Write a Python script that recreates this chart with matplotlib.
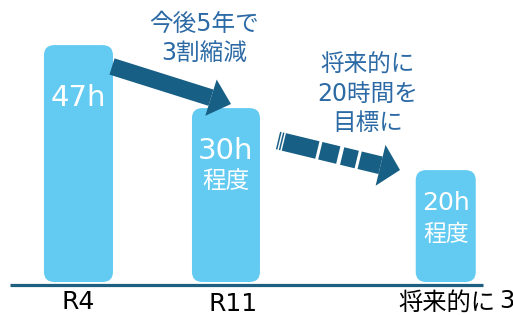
import numpy as np
import matplotlib.pyplot as plt
import matplotlib.transforms as mtransforms
from matplotlib.patches import FancyBboxPatch, Polygon

plt.rcParams['font.family'] = ['DejaVu Sans', 'Noto Sans CJK JP']

# data
categories = ['R4', 'R11', '将来的に']
hours = [47, 30, 20]
# bar heights as drawn in the picture (schematic, not to scale)
bar_heights = [47, 34.5, 22.2]
value_labels = ['47h', '30h', '20h']
sub_labels = ['', '程度', '程度']
note1 = ['今後5年で', '3割縮減']
note2 = ['将来的に', '20時間を', '目標に']

bar_color = '#63CBF2'
dark = '#175f84'
note_color = '#2c6aa5'

W, H = 513, 315
fig = plt.figure(figsize=(W / 100, H / 100), dpi=100)
ax = fig.add_axes([0, 0, 1, 1])
ax.set_xlim(-0.532, 2.946)
ax.set_ylim(-6.55, 55.95)
ax.axis('off')

# image-pixel transform (origin top-left) for the decorations
px = mtransforms.Affine2D().scale(1 / W, -1 / H).translate(0, 1) + fig.transFigure

xpos = [0, 1, 2.49]
widths = [0.468, 0.461, 0.407]
rx = 0.07
for x, h, w in zip(xpos, bar_heights, widths):
    p = FancyBboxPatch((x - w / 2, 0), w, h,
                       boxstyle='round,pad=0,rounding_size=%g' % rx,
                       mutation_aspect=2.0 / rx, fc=bar_color, ec='none')
    ax.add_patch(p)

# labels inside bars
ax.text(xpos[0], 36.5, value_labels[0], color='white', fontsize=21, ha='center', va='center')
ax.text(xpos[1], 26.0, value_labels[1], color='white', fontsize=21, ha='center', va='center')
ax.text(xpos[1], 20.0, sub_labels[1], color='white', fontsize=17, ha='center', va='center')
ax.text(xpos[2], 15.7, value_labels[2], color='white', fontsize=18, ha='center', va='center')
ax.text(xpos[2], 9.5, sub_labels[2], color='white', fontsize=16.5, ha='center', va='center')

# baseline
ax.plot([10, 483], [284.5, 284.5], color='#1e5f80', lw=2.3, transform=px, solid_capstyle='butt')

# category labels
ax.text(xpos[0], -3.9, categories[0], fontsize=18, ha='center', va='center')
ax.text(xpos[1] + 0.05, -4.3, categories[1], fontsize=18, ha='center', va='center')
ax.text(398, 303, categories[2], fontsize=17.5, ha='left', va='center', transform=px)
ax.text(499, 301, '3', fontsize=17.5, ha='left', va='center', transform=px)

# notes
for i, s in enumerate(note1):
    ax.text(204, 24 + 29 * i, s, color=note_color, fontsize=17, ha='center', va='center', transform=px)
for i, s in enumerate(note2):
    ax.text(368, 65 + 29 * i, s, color=note_color, fontsize=17, ha='center', va='center', transform=px)


def draw_arrow(p0, p1, w, hw, hl, pieces=None):
    p0, p1 = np.array(p0, float), np.array(p1, float)
    d = (p1 - p0) / np.linalg.norm(p1 - p0)
    n = np.array([-d[1], d[0]])
    L = np.linalg.norm(p1 - p0) - hl
    if pieces is None:
        pieces = [(0, L)]
    for a, b in pieces:
        b = min(b, L)
        pts = [p0 + d * a + n * w / 2, p0 + d * b + n * w / 2,
               p0 + d * b - n * w / 2, p0 + d * a - n * w / 2]
        ax.add_patch(Polygon(pts, closed=True, fc=dark, ec='none', transform=px))
    base = p0 + d * L
    head = [base + n * hw / 2, p1, base - n * hw / 2]
    ax.add_patch(Polygon(head, closed=True, fc=dark, ec='none', transform=px))


draw_arrow((112, 66.5), (231, 104), 17, 38, 21)
draw_arrow((278, 140.5), (400, 170), 18, 42, 20,
           pieces=[(0, 1.5), (3, 4.5), (6, 40.5), (43.5, 62), (66, 81), (84, 200)])

fig.savefig('out.png', dpi=100)
